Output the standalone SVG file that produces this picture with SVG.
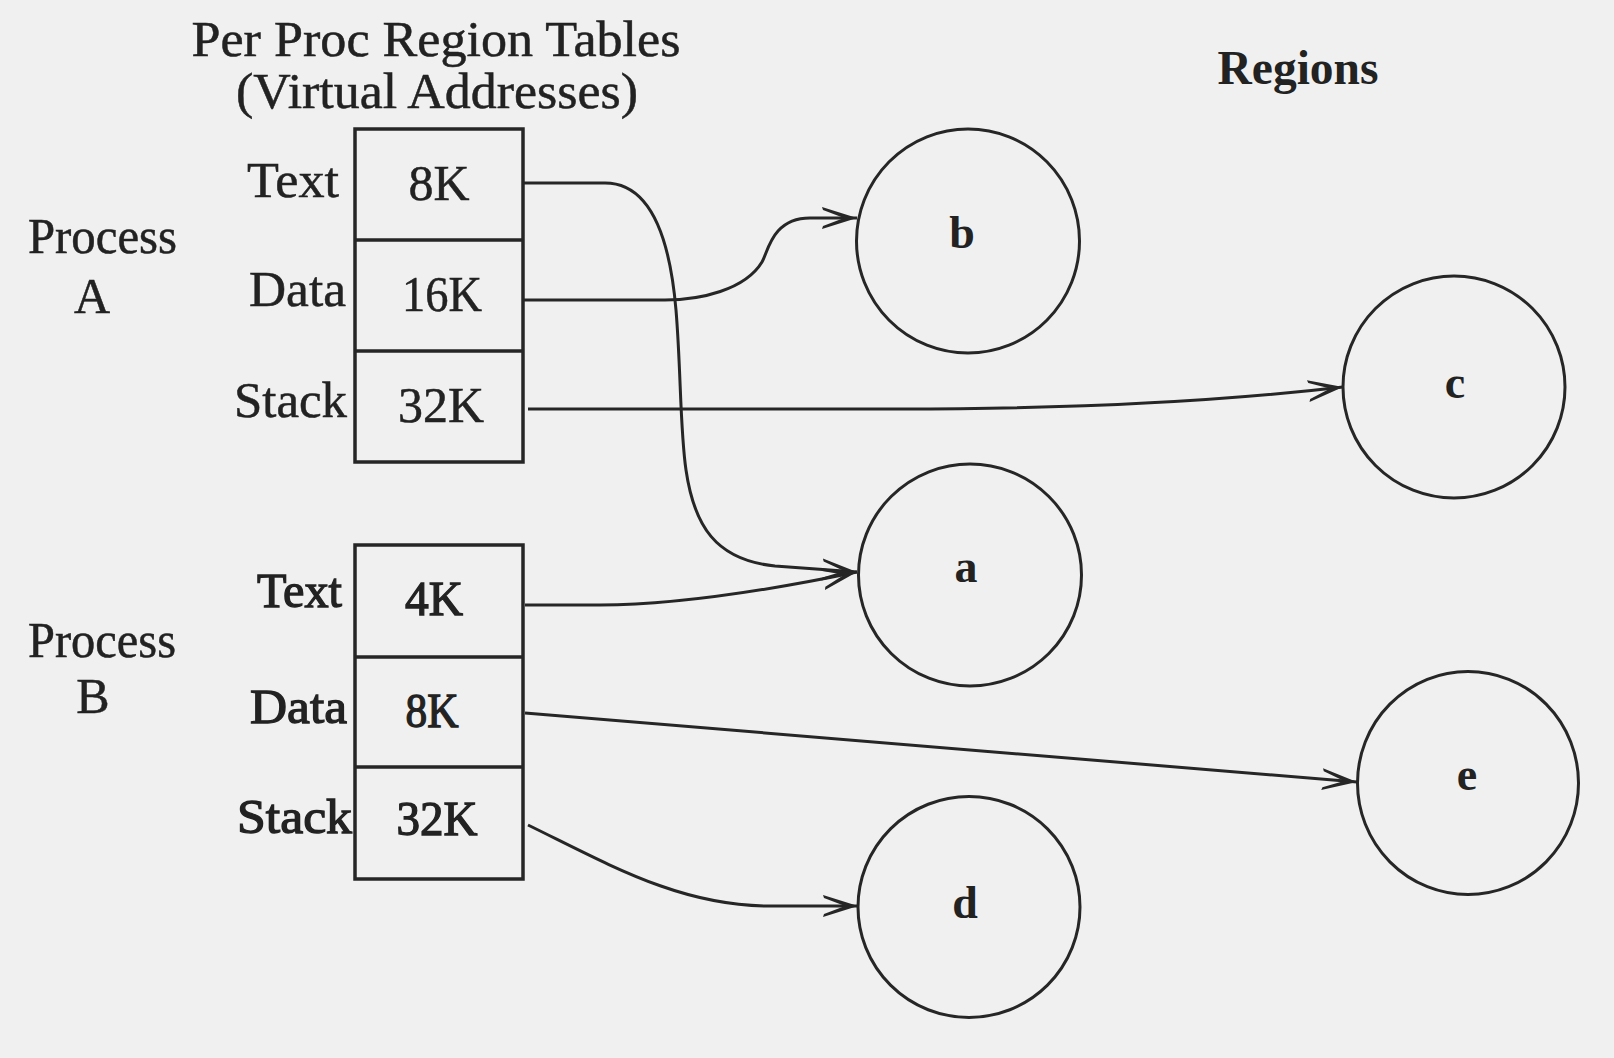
<svg xmlns="http://www.w3.org/2000/svg" width="1614" height="1058" viewBox="0 0 1614 1058">
<style>
  text { font-family: "Liberation Serif", "Times New Roman", serif; fill: #222; }
  .t { font-size: 50px; stroke: #222; stroke-width: 0.5; }
  .tb { font-size: 49px; stroke: #222; stroke-width: 1.3; }
  .rg { font-size: 48px; font-weight: bold; }
  .lbl { font-size: 46px; font-weight: bold; text-anchor: middle; }
  .box { fill: none; stroke: #262626; stroke-width: 3.5; }
  .div { stroke: #262626; stroke-width: 3.5; }
  .reg { fill: none; stroke: #262626; stroke-width: 3; }
  .con { fill: none; stroke: #262626; stroke-width: 3; marker-end: url(#arr); }
</style>
<defs>
  <marker id="arr" markerUnits="userSpaceOnUse" orient="auto" viewBox="-37 -12 38 24" refX="0" refY="0" markerWidth="38" markerHeight="24">
    <path d="M0,0 L-35,-11 L-34,-8 L-13,0 L-34,8 L-35,11 Z" fill="#262626"/>
  </marker>
</defs>
<rect width="1614" height="1058" fill="#f0f0f0"/>

<g id="titles">
  <text class="t" x="436" y="56" text-anchor="middle" textLength="489" lengthAdjust="spacingAndGlyphs">Per Proc Region Tables</text>
  <text class="t" x="437" y="108" text-anchor="middle" textLength="402" lengthAdjust="spacingAndGlyphs">(Virtual Addresses)</text>
  <text class="rg" x="1298" y="84" text-anchor="middle" textLength="161" lengthAdjust="spacingAndGlyphs">Regions</text>
</g>

<g id="processA">
  <text class="t" x="28" y="253" textLength="149" lengthAdjust="spacingAndGlyphs">Process</text>
  <text class="t" x="92" y="313" text-anchor="middle">A</text>
</g>

<g id="tableA">
  <rect class="box" x="355" y="129" width="168" height="333"/>
  <line class="div" x1="355" y1="240" x2="523" y2="240"/>
  <line class="div" x1="355" y1="351" x2="523" y2="351"/>
  <text class="t" x="339" y="197" text-anchor="end" textLength="92" lengthAdjust="spacingAndGlyphs">Text</text>
  <text class="t" x="346" y="306" text-anchor="end" textLength="97" lengthAdjust="spacingAndGlyphs">Data</text>
  <text class="t" x="347" y="417" text-anchor="end" textLength="113" lengthAdjust="spacingAndGlyphs">Stack</text>
  <text class="t" x="439" y="200" text-anchor="middle" textLength="61" lengthAdjust="spacingAndGlyphs">8K</text>
  <text class="t" x="442" y="311" text-anchor="middle" textLength="80" lengthAdjust="spacingAndGlyphs">16K</text>
  <text class="t" x="441" y="422" text-anchor="middle" textLength="86" lengthAdjust="spacingAndGlyphs">32K</text>
</g>

<g id="processB">
  <text class="t" x="28" y="657" textLength="148" lengthAdjust="spacingAndGlyphs">Process</text>
  <text class="t" x="93" y="713" text-anchor="middle">B</text>
</g>

<g id="tableB">
  <rect class="box" x="355" y="545" width="168" height="334"/>
  <line class="div" x1="355" y1="657" x2="523" y2="657"/>
  <line class="div" x1="355" y1="767" x2="523" y2="767"/>
  <text class="tb" x="342" y="607" text-anchor="end" textLength="85" lengthAdjust="spacingAndGlyphs">Text</text>
  <text class="tb" x="347" y="723" text-anchor="end" textLength="97" lengthAdjust="spacingAndGlyphs">Data</text>
  <text class="tb" x="352" y="833" text-anchor="end" textLength="115" lengthAdjust="spacingAndGlyphs">Stack</text>
  <text class="tb" x="434" y="615" text-anchor="middle" textLength="58" lengthAdjust="spacingAndGlyphs">4K</text>
  <text class="tb" x="432" y="727" text-anchor="middle" textLength="53" lengthAdjust="spacingAndGlyphs">8K</text>
  <text class="tb" x="437" y="835" text-anchor="middle" textLength="81" lengthAdjust="spacingAndGlyphs">32K</text>
</g>

<g id="region-b">
  <ellipse class="reg" cx="968" cy="241" rx="111.5" ry="112"/>
  <text class="lbl" x="962" y="248">b</text>
</g>
<g id="region-c">
  <ellipse class="reg" cx="1454" cy="387" rx="111" ry="111"/>
  <text class="lbl" x="1455" y="398">c</text>
</g>
<g id="region-a">
  <ellipse class="reg" cx="970" cy="575" rx="111.5" ry="111"/>
  <text class="lbl" x="966" y="582">a</text>
</g>
<g id="region-d">
  <ellipse class="reg" cx="969" cy="907" rx="111" ry="110.5"/>
  <text class="lbl" x="965" y="918">d</text>
</g>
<g id="region-e">
  <ellipse class="reg" cx="1468" cy="783" rx="110.5" ry="111.5"/>
  <text class="lbl" x="1467" y="790">e</text>
</g>

<g id="connectors">
  <path class="con" d="M523,183 H605 C652,183 670,240 676,310 C681,370 680,430 686,470 C694,525 715,560 775,566 L857,572"/>
  <path class="con" d="M523,300 H665 C700,300 745,290 762,262 C768,252 772,218 810,218 L857,218"/>
  <path class="con" d="M528,409 L900,409 C1100,409 1250,398 1343,387"/>
  <path class="con" d="M525,605 H600 C680,605 780,588 857,572"/>
  <path class="con" d="M525,713 L1357,782"/>
  <path class="con" d="M528,825 C610,865 680,906 770,906 L858,906"/>
</g>
</svg>
